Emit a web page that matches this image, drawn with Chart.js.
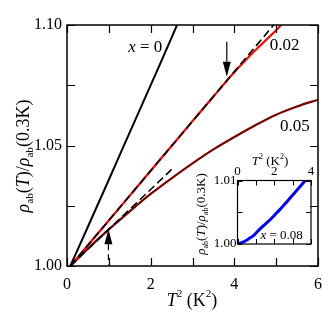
<!DOCTYPE html>
<html>
<head>
<meta charset="utf-8">
<script src="https://cdn.jsdelivr.net/npm/chart.js@4.4.1/dist/chart.umd.min.js"></script>
<style>
html, body { margin: 0; padding: 0; background: #fff; }
#wrap { position: relative; width: 335px; height: 320px; }
#main { position: absolute; left: 0; top: 0; }
#inset { position: absolute; left: 190px; top: 150px; }
</style>
</head>
<body>
<div id="wrap">
  <canvas id="main" width="335" height="320"></canvas>
  <canvas id="inset" width="128" height="110"></canvas>
</div>
<script>
// main panel: T^2 (K^2) vs rho_ab(T)/rho_ab(0.3K)
var x0T2 = [0.08, 0.5, 1.0, 1.33, 1.8, 2.2, 2.63];
var x0Rho = [1.000, 1.0163, 1.0358, 1.0488, 1.0672, 1.0828, 1.1000];

var x002T2 = [0.08, 0.5, 1.0, 1.5, 2.0, 2.5, 3.0, 3.5, 3.84, 4.0, 4.5, 5.0, 5.12];
var x002Rho = [1.000, 1.0086, 1.0189, 1.0292, 1.0395, 1.0498, 1.0601, 1.0703, 1.0773, 1.0804, 1.0895, 1.0978, 1.1000];

var x005T2 = [0.08, 0.5, 1.0, 1.5, 2.0, 2.5, 3.0, 3.5, 4.0, 4.5, 5.0, 5.5, 6.0];
var x005Rho = [1.000, 1.0072, 1.0152, 1.0227, 1.0299, 1.0364, 1.0426, 1.0484, 1.0535, 1.0584, 1.0628, 1.0662, 1.0690];

// dashed linear guides
var fitHighT2 = [0.08, 4.94];
var fitHighRho = [1.0000, 1.1000];
var fitLowT2 = [0.08, 2.54];
var fitLowRho = [1.0000, 1.0407];

// inset: x = 0.08
var x008T2 = [0.0, 0.3, 0.6, 0.9, 1.2, 1.5, 1.8, 2.1, 2.4, 2.7, 3.0, 3.3, 3.69];
var x008Rho = [1.0000, 1.0003, 1.0008, 1.0014, 1.0023, 1.0031, 1.0039, 1.0048, 1.0057, 1.0067, 1.0077, 1.0087, 1.0100];

var SERIF = "'Liberation Serif', 'Times New Roman', serif";

function pts(xs, ys) {
    return xs.map(function (v, i) { return {x: v, y: ys[i]}; });
}

// draw text with italic / sub / sup pieces, centred on (x, y)
function richText(ctx, parts, x, y, size, rotate) {
    ctx.save();
    ctx.translate(x, y);
    if (rotate) ctx.rotate(-Math.PI / 2);
    function font(p) {
        var s = (p[1] === 'sub' || p[1] === 'sup') ? size * 0.62 : size;
        return (p[1] === 'i' ? 'italic ' : '') + s + 'px ' + SERIF;
    }
    var w = 0;
    parts.forEach(function (p) { ctx.font = font(p); w += ctx.measureText(p[0]).width; });
    var cx = -w / 2;
    ctx.textBaseline = 'middle';
    ctx.fillStyle = '#000';
    parts.forEach(function (p) {
        ctx.font = font(p);
        var dy = p[1] === 'sub' ? size * 0.32 : (p[1] === 'sup' ? -size * 0.38 : 0);
        ctx.fillText(p[0], cx, dy);
        cx += ctx.measureText(p[0]).width;
    });
    ctx.restore();
}

var rhoTitle = [['ρ', 'i'], ['ab', 'sub'], ['(', ''], ['T', 'i'], [')/', ''], ['ρ', 'i'], ['ab', 'sub'], ['(0.3K)', '']];
var t2Title = [['T', 'i'], ['2', 'sup'], [' (K', ''], ['2', 'sup'], [')', '']];

// frame + inward ticks on all four sides
var frameTicks = {
    id: 'frameTicks',
    afterDraw: function (chart, args, opts) {
        var ctx = chart.ctx, a = chart.chartArea;
        var xs = chart.scales.x, ys = chart.scales.y;
        var L = opts.len;
        ctx.save();
        ctx.strokeStyle = '#000';
        ctx.lineWidth = opts.width;
        ctx.beginPath();
        xs.ticks.forEach(function (t) {
            var px = Math.round(xs.getPixelForValue(t.value)) + 0.5;
            ctx.moveTo(px, a.bottom); ctx.lineTo(px, a.bottom - L);
            ctx.moveTo(px, a.top); ctx.lineTo(px, a.top + L);
        });
        ys.ticks.forEach(function (t) {
            var py = Math.round(ys.getPixelForValue(t.value)) + 0.5;
            ctx.moveTo(a.left, py); ctx.lineTo(a.left + L, py);
            ctx.moveTo(a.right, py); ctx.lineTo(a.right - L, py);
        });
        ctx.stroke();
        ctx.lineWidth = opts.frame;
        ctx.strokeRect(a.left, a.top, a.right - a.left, a.bottom - a.top);
        ctx.restore();
    }
};

// text labels and arrows placed in data units
var annotations = {
    id: 'annotations',
    afterDraw: function (chart, args, opts) {
        var ctx = chart.ctx;
        var xs = chart.scales.x, ys = chart.scales.y;
        (opts.texts || []).forEach(function (t) {
            richText(ctx, t.parts, xs.getPixelForValue(t.x), ys.getPixelForValue(t.y), t.size, false);
        });
        (opts.arrows || []).forEach(function (ar) {
            var px = xs.getPixelForValue(ar.x);
            var tip = ys.getPixelForValue(ar.tip);
            var tail = ys.getPixelForValue(ar.tail);
            var dir = tail > tip ? 1 : -1;
            var base = tip + dir * 15;
            ctx.save();
            ctx.strokeStyle = '#000';
            ctx.fillStyle = '#000';
            ctx.lineWidth = 1.2;
            if (ar.dash) ctx.setLineDash(ar.dash);
            ctx.beginPath();
            ctx.moveTo(px, base); ctx.lineTo(px, tail);
            ctx.stroke();
            ctx.setLineDash([]);
            ctx.beginPath();
            ctx.moveTo(px, tip);
            ctx.lineTo(px - 4, base);
            ctx.lineTo(px + 4, base);
            ctx.closePath();
            ctx.fill();
            ctx.restore();
        });
        (opts.titles || []).forEach(function (t) {
            richText(ctx, t.parts, t.px, t.py, t.size, t.rotate);
        });
    }
};

function lineSet(data, color, width, dash) {
    return {
        data: data,
        borderColor: color,
        backgroundColor: color,
        borderWidth: width,
        borderDash: dash || [],
        pointRadius: 0,
        fill: false,
        cubicInterpolationMode: 'monotone'
    };
}

// Chart.js paints the first dataset last, so the dashed guides go first to sit on top
var mainChart = new Chart(document.getElementById('main').getContext('2d'), {
    type: 'line',
    data: {
        datasets: [
            lineSet(pts(fitHighT2, fitHighRho), '#000000', 1.6, [8, 4]),
            lineSet(pts(fitLowT2, fitLowRho), '#000000', 1.6, [8, 4]),
            lineSet(pts(x0T2, x0Rho), '#000000', 2),
            lineSet(pts(x002T2, x002Rho), '#ff0000', 2.2),
            lineSet(pts(x005T2, x005Rho), '#7a0000', 2.2)
        ]
    },
    options: {
        responsive: false,
        animation: false,
        layout: {padding: {top: 25, right: 17, left: 0, bottom: 0}},
        plugins: {
            legend: {display: false},
            tooltip: {enabled: false},
            frameTicks: {len: 8, width: 1.2, frame: 1.5},
            annotations: {
                texts: [
                    {parts: [['x', 'i'], [' = 0', '']], x: 1.87, y: 1.0905, size: 17},
                    {parts: [['0.02', '']], x: 5.2, y: 1.0914, size: 17},
                    {parts: [['0.05', '']], x: 5.45, y: 1.0578, size: 17}
                ],
                arrows: [
                    {x: 3.82, tip: 1.0785, tail: 1.0930},
                    {x: 0.99, tip: 1.0152, tail: 1.0005, dash: [6, 4]}
                ],
                titles: [
                    {parts: rhoTitle, px: 24, py: 156, size: 18, rotate: true},
                    {parts: t2Title, px: 192, py: 301, size: 18, rotate: false}
                ]
            }
        },
        scales: {
            x: {
                type: 'linear', min: 0, max: 6,
                afterFit: function (s) { s.height = 54; },
                grid: {display: false, drawTicks: false},
                border: {display: false},
                ticks: {
                    stepSize: 1, autoSkip: false, maxRotation: 0, padding: 9, color: '#000',
                    font: {family: SERIF, size: 16},
                    callback: function (v) { return v % 2 === 0 ? String(v) : ''; }
                }
            },
            y: {
                type: 'linear', min: 1.0, max: 1.1,
                afterFit: function (s) { s.width = 67; },
                grid: {display: false, drawTicks: false},
                border: {display: false},
                ticks: {
                    stepSize: 0.025, autoSkip: false, padding: 5, color: '#000',
                    font: {family: SERIF, size: 16},
                    callback: function (v) { return Math.round(v * 1000) % 50 === 0 ? v.toFixed(2) : ''; }
                }
            }
        }
    },
    plugins: [frameTicks, annotations]
});

var insetChart = new Chart(document.getElementById('inset').getContext('2d'), {
    type: 'line',
    data: {
        datasets: [
            lineSet(pts(x008T2, x008Rho), '#0000ff', 3)
        ]
    },
    options: {
        responsive: false,
        animation: false,
        layout: {padding: {top: 0, right: 7, left: 0, bottom: 16}},
        plugins: {
            legend: {display: false},
            tooltip: {enabled: false},
            frameTicks: {len: 5, width: 1, frame: 1.2},
            annotations: {
                texts: [
                    {parts: [['x', 'i'], [' = 0.08', '']], x: 2.4, y: 1.00135, size: 13}
                ],
                titles: [
                    {parts: rhoTitle, px: 12, py: 64, size: 13, rotate: true},
                    {parts: t2Title, px: 80, py: 12, size: 13, rotate: false}
                ]
            }
        },
        scales: {
            x: {
                type: 'linear', min: 0, max: 4, position: 'top',
                afterFit: function (s) { s.height = 30.5; },
                grid: {display: false, drawTicks: false},
                border: {display: false},
                ticks: {
                    stepSize: 1, autoSkip: false, maxRotation: 0, padding: 1, color: '#000',
                    font: {family: SERIF, size: 13},
                    callback: function (v) { return v % 2 === 0 ? String(v) : ''; }
                }
            },
            y: {
                type: 'linear', min: 1.0, max: 1.01,
                afterFit: function (s) { s.width = 47.5; },
                grid: {display: false, drawTicks: false},
                border: {display: false},
                ticks: {
                    stepSize: 0.005, autoSkip: false, padding: 1, color: '#000',
                    font: {family: SERIF, size: 13},
                    callback: function (v) { return Math.round(v * 1000) % 10 === 0 ? v.toFixed(2) : ''; }
                }
            }
        }
    },
    plugins: [frameTicks, annotations]
});
</script>
</body>
</html>
